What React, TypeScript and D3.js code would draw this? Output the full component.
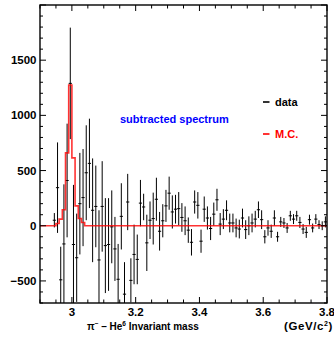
import React, { useEffect, useRef } from 'react';
import * as d3 from 'd3';

// histogram binning of the data, GeV/c^2
const binStart = 2.94;
const binWidth = 0.01;

// subtracted spectrum (counts / bin) and its errors
const dataCounts = [
  50, 345, -490, -165, 410, 1290, -170, -290, 200, 255,
  480, 565, 140, 175, -310, 175, -180, -170, -10, -210,
  -485, 85, -620, 215, -495, -260, -305, 205, 170, -155,
  50, 65, 240, -50, 45, 180, 295, 125, 150, 155,
  75, 45, -40, -150, 215, 185, -140, 150, 70, -25,
  105, 235, 15, 60, 140, 25, 25, -20, -30, 70,
  -35, 0, 25, 60, 145, 55, -100, -20, -50, 70,
  -100, 35, 25, -20, 90, 60, 90, 30, -30, -60,
  55, -20, 60, 10, 0, 35
];
const dataErrors = [
  65, 410, 300, 540, 515, 505, 540, 400, 460, 440,
  430, 405, 470, 370, 450, 410, 430, 420, 330, 290,
  320, 300, 290, 255, 200, 270, 225, 210, 120, 255,
  170, 235, 195, 175, 150, 145, 150, 150, 130, 150,
  130, 130, 115, 120, 105, 120, 105, 115, 105, 105,
  105, 100, 100, 90, 90, 85, 85, 85, 85, 85,
  85, 85, 85, 75, 75, 85, 60, 70, 60, 70,
  45, 45, 45, 45, 45, 45, 45, 50, 45, 50,
  45, 40, 45, 40, 40, 50
];

// Monte Carlo histogram (non-zero bins)
const mcStart = 2.95;
const mcCounts = [20, 60, 145, 660, 1275, 615, 180, 65, 30];

// axis ticks
const xTicks = [3.0, 3.2, 3.4, 3.6, 3.8];
const xTickLabels = ['3', '3.2', '3.4', '3.6', '3.8'];
const yTicks = [-500, 0, 500, 1000, 1500];
const yTickLabels = ['\u2212500', '0', '500', '1000', '1500'];

const FONT = '"Liberation Sans", Arial, Helvetica, sans-serif';

export default function App() {
  const ref = useRef<SVGSVGElement>(null);

  useEffect(() => {
    const svg = d3.select(ref.current);
    svg.selectAll('*').remove();

    const left = 40, right = 327, top = 5, bottom = 303;
    const x = d3.scaleLinear().domain([2.9, 3.8]).range([left, right]);
    const y = d3.scaleLinear().domain([-700, 2000]).range([bottom, top]);

    svg.append('defs').append('clipPath').attr('id', 'plotClip')
      .append('rect')
      .attr('x', left).attr('y', top)
      .attr('width', right - left).attr('height', bottom - top);

    // data points with error bars
    const pts = dataCounts.map((v, i) => ({
      c: binStart + binWidth * (i + 0.5),
      v: v,
      e: dataErrors[i]
    }));
    const gData = svg.append('g').attr('clip-path', 'url(#plotClip)')
      .attr('stroke', '#000').attr('stroke-width', 1);
    gData.selectAll('line.ebar').data(pts).enter().append('line')
      .attr('class', 'ebar')
      .attr('x1', d => x(d.c)).attr('x2', d => x(d.c))
      .attr('y1', d => y(d.v + d.e)).attr('y2', d => y(d.v - d.e));
    gData.selectAll('line.mark').data(pts).enter().append('line')
      .attr('class', 'mark')
      .attr('x1', d => x(d.c - binWidth / 2)).attr('x2', d => x(d.c + binWidth / 2))
      .attr('y1', d => y(d.v)).attr('y2', d => y(d.v));

    // MC step histogram
    const mcPts: [number, number][] = [[2.9, 0]];
    mcCounts.forEach((v, i) => mcPts.push([mcStart + binWidth * i, v]));
    mcPts.push([mcStart + binWidth * mcCounts.length, 0]);
    mcPts.push([3.8, 0]);
    const line = d3.line<[number, number]>()
      .x(d => x(d[0])).y(d => y(d[1]))
      .curve(d3.curveStepAfter);
    svg.append('path')
      .attr('d', line(mcPts))
      .attr('fill', 'none')
      .attr('stroke', '#ff0000')
      .attr('stroke-opacity', 0.8)
      .attr('stroke-width', 1.6)
      .attr('clip-path', 'url(#plotClip)');

    // frame
    svg.append('rect')
      .attr('x', left).attr('y', top)
      .attr('width', right - left).attr('height', bottom - top)
      .attr('fill', 'none').attr('stroke', '#000').attr('stroke-width', 1.4);

    // ticks on all four sides, pointing inward
    const gTicks = svg.append('g').attr('stroke', '#000').attr('stroke-width', 1);
    const xMinor = d3.range(2.9, 3.801, 0.05);
    xMinor.forEach(t => {
      const major = xTicks.some(m => Math.abs(m - t) < 1e-6);
      const len = major ? 6 : 3.5;
      gTicks.append('line').attr('x1', x(t)).attr('x2', x(t)).attr('y1', bottom).attr('y2', bottom - len);
      gTicks.append('line').attr('x1', x(t)).attr('x2', x(t)).attr('y1', top).attr('y2', top + len);
    });
    const yMinor = d3.range(-700, 2001, 100);
    yMinor.forEach(t => {
      const major = t % 500 === 0;
      const len = major ? 6 : 3;
      gTicks.append('line').attr('x1', left).attr('x2', left + len).attr('y1', y(t)).attr('y2', y(t));
      gTicks.append('line').attr('x1', right).attr('x2', right - len).attr('y1', y(t)).attr('y2', y(t));
    });

    // tick labels
    const gLab = svg.append('g')
      .attr('font-family', FONT).attr('font-weight', 'bold').attr('font-size', 11.5).attr('fill', '#000');
    gLab.selectAll('text.xl').data(xTicks).enter().append('text')
      .attr('class', 'xl')
      .attr('x', d => x(d)).attr('y', 315.5)
      .attr('text-anchor', 'middle')
      .text((d, i) => xTickLabels[i]);
    gLab.selectAll('text.yl').data(yTicks).enter().append('text')
      .attr('class', 'yl')
      .attr('x', 36.5).attr('y', d => y(d) + 4)
      .attr('text-anchor', 'end')
      .text((d, i) => yTickLabels[i]);

    // axis title
    const title = svg.append('text')
      .attr('x', 87).attr('y', 330)
      .attr('font-family', FONT).attr('font-weight', 'bold').attr('font-size', 10);
    title.append('tspan').text('\u03c0');
    title.append('tspan').attr('dy', -4).attr('font-size', 6.5).text('\u2212');
    title.append('tspan').attr('dy', 4).text(' \u2013 He');
    title.append('tspan').attr('dy', -4).attr('font-size', 6.5).text('6');
    title.append('tspan').attr('dy', 4).text(' Invariant mass');

    const unit = svg.append('text')
      .attr('x', 333).attr('y', 330).attr('text-anchor', 'end')
      .attr('font-family', FONT).attr('font-weight', 'bold').attr('font-size', 11.5)
      .attr('letter-spacing', 0.6);
    unit.append('tspan').text('(GeV/c');
    unit.append('tspan').attr('dy', -4).attr('font-size', 7).text('2');
    unit.append('tspan').attr('dy', 4).text(')');

    // annotation
    svg.append('text')
      .attr('x', 120).attr('y', 123)
      .attr('font-family', FONT).attr('font-weight', 'bold').attr('font-size', 11)
      .attr('fill', '#0000ff')
      .text('subtracted spectrum');

    // legend
    const legend = [
      { name: 'data', color: '#000', y: 102 },
      { name: 'M.C.', color: '#ff0000', y: 134 }
    ];
    const gLeg = svg.append('g');
    gLeg.selectAll('line').data(legend).enter().append('line')
      .attr('x1', 263).attr('x2', 269.5)
      .attr('y1', d => d.y).attr('y2', d => d.y)
      .attr('stroke', d => d.color).attr('stroke-width', 1.6);
    gLeg.selectAll('text').data(legend).enter().append('text')
      .attr('x', 275).attr('y', d => d.y + 4)
      .attr('font-family', FONT).attr('font-weight', 'bold').attr('font-size', 11)
      .attr('fill', d => d.color)
      .text(d => d.name);
  }, []);

  return (
    <svg ref={ref} width={334} height={340}
      style={{ position: 'absolute', left: 0, top: 0, background: '#fff' }} />
  );
}
